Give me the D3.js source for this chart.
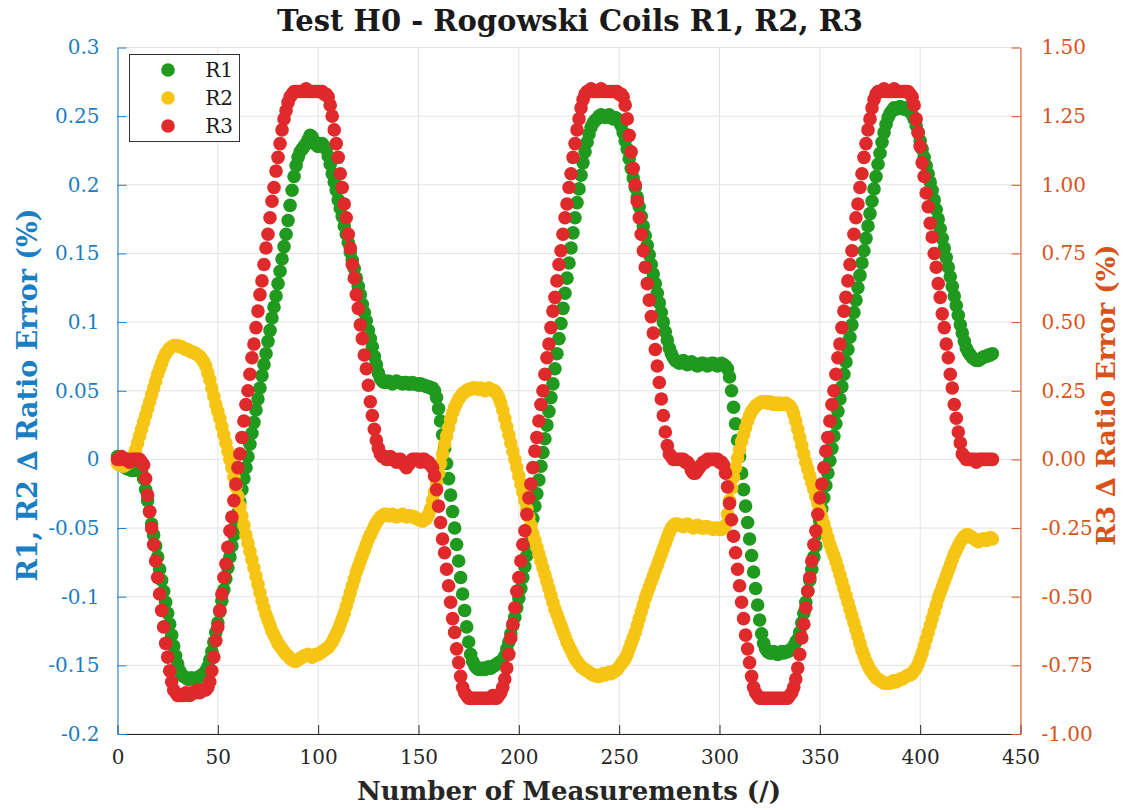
<!DOCTYPE html>
<html><head><meta charset="utf-8">
<script src="https://cdn.jsdelivr.net/npm/d3@7"></script>
<style>body{margin:0;background:#fff}svg{display:block}</style>
</head><body>
<svg id="chart" width="1125" height="810"></svg>
<script>
const title = "Test H0 - Rogowski Coils R1, R2, R3";
const xLabel = "Number of Measurements (/)";
const yLeftLabel = "R1, R2 \u2206 Ratio Error (%)";
const yRightLabel = "R3 \u2206 Ratio Error (%)";
const seriesNames = ["R1", "R2", "R3"];
const xTicks = [0, 50, 100, 150, 200, 250, 300, 350, 400, 450];
const leftTicks = [-0.2, -0.15, -0.1, -0.05, 0, 0.05, 0.1, 0.15, 0.2, 0.25, 0.3];
const leftTickLabels = ["-0.2", "-0.15", "-0.1", "-0.05", "0", "0.05", "0.1", "0.15", "0.2", "0.25", "0.3"];
const rightTicks = [-1, -0.75, -0.5, -0.25, 0, 0.25, 0.5, 0.75, 1, 1.25, 1.5];
const rightTickLabels = ["-1.00", "-0.75", "-0.50", "-0.25", "0.00", "0.25", "0.50", "0.75", "1.00", "1.25", "1.50"];

// R1 (left axis), measurements 0..436
const R1 = [
0.002,0.000,-0.003,-0.005,-0.006,-0.007,-0.007,-0.008,-0.008,-0.007,
-0.008,-0.008,-0.009,-0.014,-0.022,-0.030,-0.038,-0.047,-0.055,-0.063,
-0.071,-0.080,-0.088,-0.096,-0.104,-0.112,-0.120,-0.128,-0.136,-0.143,
-0.149,-0.154,-0.157,-0.158,-0.159,-0.160,-0.160,-0.159,-0.160,-0.160,
-0.159,-0.158,-0.157,-0.156,-0.154,-0.151,-0.146,-0.140,-0.133,-0.126,
-0.119,-0.111,-0.103,-0.095,-0.087,-0.079,-0.071,-0.063,-0.055,-0.047,
-0.039,-0.031,-0.022,-0.014,-0.006,0.002,0.011,0.019,0.027,0.036,
0.044,0.052,0.061,0.069,0.077,0.086,0.094,0.103,0.111,0.119,
0.128,0.137,0.146,0.155,0.164,0.174,0.185,0.196,0.206,0.214,
0.220,0.224,0.226,0.228,0.230,0.233,0.236,0.235,0.232,0.229,
0.228,0.229,0.230,0.228,0.226,0.221,0.215,0.208,0.202,0.196,
0.189,0.183,0.177,0.170,0.164,0.158,0.151,0.145,0.139,0.132,
0.126,0.120,0.113,0.107,0.101,0.094,0.088,0.082,0.075,0.069,
0.063,0.059,0.057,0.056,0.056,0.057,0.056,0.055,0.056,0.057,
0.056,0.056,0.055,0.056,0.056,0.055,0.055,0.056,0.055,0.055,
0.054,0.055,0.054,0.054,0.053,0.053,0.052,0.052,0.050,0.045,
0.037,0.028,0.018,0.008,-0.003,-0.014,-0.026,-0.038,-0.050,-0.062,
-0.074,-0.086,-0.098,-0.110,-0.122,-0.133,-0.142,-0.147,-0.150,-0.152,
-0.153,-0.153,-0.152,-0.153,-0.152,-0.151,-0.152,-0.151,-0.150,-0.149,
-0.148,-0.147,-0.146,-0.143,-0.138,-0.133,-0.127,-0.121,-0.115,-0.108,
-0.101,-0.094,-0.086,-0.078,-0.070,-0.061,-0.052,-0.043,-0.034,-0.025,
-0.015,-0.005,0.005,0.015,0.025,0.035,0.045,0.055,0.066,0.077,
0.088,0.099,0.110,0.121,0.132,0.143,0.154,0.165,0.176,0.187,
0.197,0.207,0.216,0.224,0.231,0.237,0.242,0.245,0.247,0.248,
0.250,0.251,0.250,0.249,0.250,0.251,0.249,0.248,0.249,0.248,
0.246,0.243,0.238,0.232,0.226,0.219,0.212,0.205,0.198,0.191,
0.184,0.177,0.170,0.163,0.156,0.149,0.142,0.135,0.128,0.121,
0.114,0.107,0.100,0.093,0.087,0.081,0.077,0.074,0.072,0.071,
0.070,0.071,0.072,0.070,0.069,0.070,0.071,0.070,0.069,0.068,
0.069,0.070,0.070,0.069,0.068,0.069,0.070,0.070,0.069,0.068,
0.069,0.070,0.069,0.068,0.066,0.060,0.050,0.038,0.026,0.014,
0.002,-0.010,-0.022,-0.034,-0.046,-0.058,-0.070,-0.082,-0.094,-0.106,
-0.117,-0.127,-0.134,-0.138,-0.140,-0.141,-0.141,-0.140,-0.141,-0.142,
-0.141,-0.140,-0.141,-0.140,-0.140,-0.139,-0.138,-0.136,-0.133,-0.131,
-0.126,-0.119,-0.112,-0.104,-0.096,-0.088,-0.080,-0.071,-0.063,-0.054,
-0.045,-0.036,-0.028,-0.019,-0.010,-0.001,0.008,0.017,0.026,0.035,
0.044,0.053,0.062,0.071,0.080,0.089,0.098,0.107,0.116,0.125,
0.134,0.143,0.152,0.161,0.170,0.179,0.188,0.197,0.206,0.215,
0.223,0.231,0.238,0.244,0.249,0.252,0.254,0.256,0.255,0.256,
0.257,0.256,0.255,0.256,0.255,0.253,0.251,0.248,0.243,0.238,
0.232,0.226,0.220,0.214,0.208,0.202,0.196,0.189,0.182,0.175,
0.168,0.161,0.154,0.147,0.140,0.133,0.126,0.119,0.112,0.105,
0.098,0.092,0.086,0.081,0.078,0.076,0.074,0.073,0.072,0.072,
0.073,0.074,0.075,0.075,0.076,0.076,0.077
];

// R2 (left axis)
const R2 = [
-0.003,-0.004,-0.004,-0.005,-0.004,-0.003,-0.002,0.000,0.003,0.007,
0.012,0.017,0.022,0.027,0.032,0.037,0.042,0.047,0.052,0.057,
0.062,0.066,0.070,0.074,0.077,0.079,0.081,0.082,0.083,0.083,
0.083,0.082,0.082,0.081,0.080,0.080,0.079,0.078,0.078,0.077,
0.076,0.075,0.073,0.071,0.068,0.063,0.058,0.052,0.046,0.040,
0.035,0.030,0.024,0.018,0.012,0.006,0.000,-0.006,-0.013,-0.020,
-0.027,-0.034,-0.041,-0.048,-0.055,-0.061,-0.067,-0.073,-0.079,-0.085,
-0.091,-0.097,-0.103,-0.108,-0.113,-0.117,-0.121,-0.125,-0.128,-0.131,
-0.134,-0.136,-0.138,-0.140,-0.142,-0.143,-0.145,-0.146,-0.147,-0.147,
-0.146,-0.145,-0.144,-0.143,-0.143,-0.142,-0.143,-0.144,-0.143,-0.142,
-0.142,-0.141,-0.140,-0.139,-0.138,-0.137,-0.135,-0.133,-0.130,-0.127,
-0.124,-0.120,-0.116,-0.112,-0.107,-0.102,-0.097,-0.092,-0.087,-0.082,
-0.078,-0.074,-0.070,-0.066,-0.062,-0.058,-0.055,-0.052,-0.049,-0.046,
-0.044,-0.042,-0.041,-0.040,-0.040,-0.041,-0.041,-0.040,-0.041,-0.042,
-0.041,-0.041,-0.040,-0.041,-0.042,-0.041,-0.041,-0.042,-0.042,-0.043,
-0.044,-0.044,-0.045,-0.044,-0.043,-0.040,-0.036,-0.030,-0.024,-0.017,
-0.010,-0.003,0.004,0.011,0.017,0.023,0.029,0.034,0.038,0.041,
0.044,0.046,0.048,0.049,0.050,0.051,0.051,0.052,0.052,0.052,
0.051,0.052,0.051,0.050,0.051,0.052,0.051,0.050,0.050,0.048,
0.045,0.041,0.036,0.030,0.024,0.018,0.012,0.006,0.000,-0.006,
-0.012,-0.018,-0.024,-0.030,-0.036,-0.042,-0.048,-0.054,-0.059,-0.064,
-0.069,-0.074,-0.079,-0.084,-0.089,-0.094,-0.099,-0.104,-0.109,-0.113,
-0.117,-0.121,-0.125,-0.129,-0.133,-0.136,-0.139,-0.142,-0.145,-0.147,
-0.149,-0.151,-0.152,-0.153,-0.154,-0.155,-0.156,-0.157,-0.157,-0.158,
-0.158,-0.157,-0.156,-0.157,-0.156,-0.155,-0.156,-0.155,-0.154,-0.153,
-0.151,-0.149,-0.147,-0.145,-0.142,-0.138,-0.134,-0.130,-0.126,-0.121,
-0.116,-0.111,-0.106,-0.101,-0.097,-0.093,-0.089,-0.085,-0.081,-0.077,
-0.073,-0.069,-0.065,-0.061,-0.057,-0.053,-0.050,-0.048,-0.047,-0.047,
-0.048,-0.048,-0.049,-0.048,-0.047,-0.048,-0.049,-0.050,-0.049,-0.048,
-0.049,-0.050,-0.050,-0.049,-0.049,-0.050,-0.050,-0.051,-0.050,-0.050,
-0.051,-0.051,-0.050,-0.048,-0.040,-0.030,-0.021,-0.013,-0.006,0.001,
0.007,0.013,0.018,0.023,0.028,0.032,0.035,0.037,0.039,0.040,
0.041,0.042,0.042,0.042,0.041,0.042,0.041,0.040,0.041,0.040,
0.041,0.040,0.040,0.041,0.040,0.039,0.037,0.033,0.028,0.022,
0.016,0.010,0.004,-0.002,-0.007,-0.012,-0.017,-0.022,-0.027,-0.032,
-0.037,-0.042,-0.047,-0.052,-0.057,-0.062,-0.066,-0.070,-0.074,-0.079,
-0.084,-0.089,-0.094,-0.099,-0.104,-0.109,-0.114,-0.119,-0.124,-0.129,
-0.134,-0.139,-0.143,-0.147,-0.150,-0.153,-0.155,-0.157,-0.159,-0.160,
-0.161,-0.162,-0.163,-0.163,-0.163,-0.163,-0.162,-0.161,-0.162,-0.161,
-0.160,-0.160,-0.159,-0.158,-0.157,-0.157,-0.156,-0.154,-0.152,-0.149,
-0.145,-0.141,-0.136,-0.131,-0.126,-0.121,-0.116,-0.111,-0.106,-0.101,
-0.097,-0.093,-0.089,-0.085,-0.081,-0.077,-0.073,-0.069,-0.066,-0.063,
-0.060,-0.058,-0.056,-0.055,-0.055,-0.056,-0.057,-0.058,-0.059,-0.060,
-0.059,-0.058,-0.058,-0.059,-0.058,-0.057,-0.058
];

// R3 (right axis)
const R3 = [
0.00,0.00,0.01,0.00,0.00,0.00,-0.01,0.00,0.00,0.00,
0.00,0.00,-0.01,-0.02,-0.07,-0.13,-0.19,-0.25,-0.31,-0.37,
-0.43,-0.49,-0.55,-0.61,-0.67,-0.72,-0.77,-0.81,-0.84,-0.85,
-0.86,-0.86,-0.86,-0.86,-0.85,-0.86,-0.86,-0.85,-0.85,-0.85,
-0.84,-0.85,-0.84,-0.84,-0.84,-0.83,-0.81,-0.77,-0.72,-0.66,
-0.61,-0.55,-0.49,-0.43,-0.38,-0.32,-0.26,-0.21,-0.15,-0.09,
-0.03,0.02,0.08,0.14,0.20,0.25,0.31,0.37,0.42,0.48,
0.54,0.60,0.65,0.71,0.77,0.82,0.88,0.94,0.99,1.05,
1.10,1.15,1.20,1.24,1.27,1.30,1.32,1.33,1.34,1.34,
1.34,1.34,1.34,1.34,1.35,1.34,1.34,1.34,1.34,1.34,
1.34,1.34,1.34,1.33,1.33,1.32,1.29,1.25,1.20,1.15,
1.10,1.04,0.99,0.93,0.88,0.82,0.77,0.71,0.66,0.60,
0.55,0.49,0.44,0.38,0.33,0.27,0.21,0.16,0.11,0.07,
0.04,0.02,0.01,0.01,0.00,0.00,0.01,0.00,0.00,-0.01,
0.00,0.00,-0.01,-0.02,-0.03,-0.02,-0.01,0.00,0.00,0.00,
0.00,-0.01,0.00,0.00,-0.01,-0.01,-0.02,-0.03,-0.06,-0.11,
-0.17,-0.23,-0.29,-0.34,-0.40,-0.46,-0.52,-0.58,-0.63,-0.69,
-0.74,-0.79,-0.83,-0.85,-0.86,-0.87,-0.87,-0.87,-0.87,-0.87,
-0.87,-0.87,-0.87,-0.87,-0.87,-0.87,-0.87,-0.86,-0.87,-0.87,
-0.86,-0.85,-0.83,-0.80,-0.76,-0.71,-0.65,-0.60,-0.54,-0.48,
-0.43,-0.37,-0.31,-0.26,-0.20,-0.14,-0.09,-0.03,0.03,0.08,
0.14,0.20,0.25,0.31,0.37,0.42,0.48,0.54,0.59,0.65,
0.71,0.76,0.82,0.88,0.93,0.99,1.04,1.10,1.15,1.20,
1.24,1.28,1.31,1.33,1.34,1.34,1.35,1.34,1.34,1.34,
1.34,1.35,1.34,1.34,1.34,1.34,1.34,1.34,1.34,1.34,
1.33,1.33,1.32,1.29,1.24,1.18,1.12,1.06,1.00,0.94,
0.88,0.82,0.76,0.70,0.64,0.58,0.52,0.46,0.40,0.34,
0.28,0.22,0.16,0.10,0.05,0.02,0.01,0.00,0.00,0.00,
0.00,0.00,0.00,-0.01,-0.01,-0.02,-0.04,-0.05,-0.05,-0.04,
-0.03,-0.02,-0.01,-0.01,0.00,0.00,0.00,0.00,0.00,0.00,
-0.01,-0.01,-0.02,-0.05,-0.10,-0.16,-0.22,-0.28,-0.34,-0.40,
-0.46,-0.52,-0.58,-0.64,-0.69,-0.74,-0.79,-0.83,-0.85,-0.86,
-0.87,-0.87,-0.87,-0.87,-0.87,-0.87,-0.87,-0.87,-0.87,-0.87,
-0.87,-0.87,-0.87,-0.87,-0.87,-0.86,-0.85,-0.83,-0.80,-0.76,
-0.71,-0.65,-0.60,-0.54,-0.48,-0.43,-0.37,-0.31,-0.26,-0.20,
-0.14,-0.09,-0.03,0.03,0.08,0.14,0.20,0.25,0.31,0.37,
0.42,0.48,0.54,0.59,0.65,0.71,0.76,0.82,0.88,0.93,
0.99,1.04,1.10,1.15,1.20,1.24,1.28,1.31,1.33,1.34,
1.34,1.34,1.35,1.34,1.34,1.34,1.34,1.35,1.34,1.34,
1.34,1.34,1.34,1.34,1.34,1.33,1.32,1.29,1.24,1.19,
1.14,1.08,1.03,0.97,0.92,0.86,0.81,0.75,0.70,0.64,
0.59,0.53,0.48,0.42,0.37,0.31,0.26,0.20,0.15,0.10,
0.06,0.02,0.01,0.00,0.00,0.00,0.00,0.00,-0.01,0.00,
0.00,0.00,0.00,0.00,0.00,0.00,0.00
];

const colors = {R1: "#1f9a1f", R2: "#f6c514", R3: "#e0292b"};
const leftColor = "#1a7ec4";
const rightColor = "#d95319";

const svg = d3.select("#chart");
const W = 1125, H = 810;
svg.append("rect").attr("width", W).attr("height", H).attr("fill", "#fff");

const pLeft = 117.5, pRight = 1020.5, pTop = 47.5, pBottom = 734;
const x = d3.scaleLinear().domain([0, 450]).range([pLeft, pRight]);
const yL = d3.scaleLinear().domain([-0.2, 0.3]).range([pBottom, pTop]);
const yR = d3.scaleLinear().domain([-1, 1.5]).range([pBottom, pTop]);

const serif = "'DejaVu Serif', serif";

// grid
const grid = svg.append("g");
grid.selectAll("line.gx").data(xTicks).join("line")
  .attr("x1", d => x(d)).attr("x2", d => x(d)).attr("y1", pTop).attr("y2", pBottom)
  .attr("stroke", "#e3e3e3").attr("stroke-width", 1);
grid.selectAll("line.gy").data(leftTicks).join("line")
  .attr("x1", pLeft).attr("x2", pRight).attr("y1", d => yL(d)).attr("y2", d => yL(d))
  .attr("stroke", "#e3e3e3").attr("stroke-width", 1);

// axes
const tickLen = 9;
const xAxis = d3.axisBottom(x).tickValues(xTicks).tickSizeInner(-tickLen).tickSizeOuter(0).tickPadding(16).tickFormat(d3.format("d"));
const gx = svg.append("g").attr("transform", `translate(0,${pBottom})`).call(xAxis);
gx.select(".domain").attr("stroke", "#262626");
gx.selectAll(".tick line").attr("stroke", "#262626");
gx.selectAll(".tick text").attr("font-family", serif).attr("font-size", 20).attr("fill", "#262626");

const yAxisL = d3.axisLeft(yL).tickValues(leftTicks).tickSizeInner(-tickLen).tickSizeOuter(0).tickPadding(18)
  .tickFormat((d, i) => leftTickLabels[i]);
const gyl = svg.append("g").attr("transform", `translate(${pLeft},0)`).call(yAxisL);
gyl.select(".domain").attr("stroke", leftColor);
gyl.selectAll(".tick line").attr("stroke", leftColor);
gyl.selectAll(".tick text").attr("font-family", serif).attr("font-size", 20).attr("fill", leftColor);

const yAxisR = d3.axisRight(yR).tickValues(rightTicks).tickSizeInner(-tickLen).tickSizeOuter(0).tickPadding(21)
  .tickFormat((d, i) => rightTickLabels[i]);
const gyr = svg.append("g").attr("transform", `translate(${pRight},0)`).call(yAxisR);
gyr.select(".domain").attr("stroke", rightColor);
gyr.selectAll(".tick line").attr("stroke", rightColor);
gyr.selectAll(".tick text").attr("font-family", serif).attr("font-size", 20).attr("fill", rightColor);

// points
const rad = 6.8;
const plot = svg.append("g");
plot.append("g").selectAll("circle").data(R1).join("circle")
  .attr("cx", (d, i) => x(i)).attr("cy", d => yL(d)).attr("r", rad).attr("fill", colors.R1);
plot.append("g").selectAll("circle").data(R2).join("circle")
  .attr("cx", (d, i) => x(i)).attr("cy", d => yL(d)).attr("r", rad).attr("fill", colors.R2);
plot.append("g").selectAll("circle").data(R3).join("circle")
  .attr("cx", (d, i) => x(i)).attr("cy", d => yR(d)).attr("r", rad).attr("fill", colors.R3);

// title & labels
svg.append("text").attr("x", 570).attr("y", 31).attr("text-anchor", "middle")
  .attr("font-family", serif).attr("font-weight", "bold").attr("font-size", 29).attr("fill", "#1a1a1a").text(title);
svg.append("text").attr("x", 569).attr("y", 800).attr("text-anchor", "middle")
  .attr("font-family", serif).attr("font-weight", "bold").attr("font-size", 26).attr("fill", "#262626").text(xLabel);
svg.append("text").attr("transform", `translate(37,395) rotate(-90)`).attr("text-anchor", "middle")
  .attr("font-family", serif).attr("font-weight", "bold").attr("font-size", 27).attr("fill", leftColor).text(yLeftLabel);
svg.append("text").attr("transform", `translate(1115,395) rotate(-90)`).attr("text-anchor", "middle")
  .attr("font-family", serif).attr("font-weight", "bold").attr("font-size", 26).attr("fill", rightColor).text(yRightLabel);

// legend
const lg = svg.append("g");
lg.append("rect").attr("x", 129.5).attr("y", 54.5).attr("width", 110).attr("height", 87)
  .attr("fill", "#fff").attr("stroke", "#333").attr("stroke-width", 1);
seriesNames.forEach((name, i) => {
  const yy = 70 + i * 28;
  lg.append("circle").attr("cx", 168).attr("cy", yy).attr("r", rad).attr("fill", colors[name]);
  lg.append("text").attr("x", 233).attr("y", yy + 7).attr("text-anchor", "end")
    .attr("font-family", serif).attr("font-size", 20).attr("fill", "#1a1a1a").text(name);
});
</script>
</body></html>
